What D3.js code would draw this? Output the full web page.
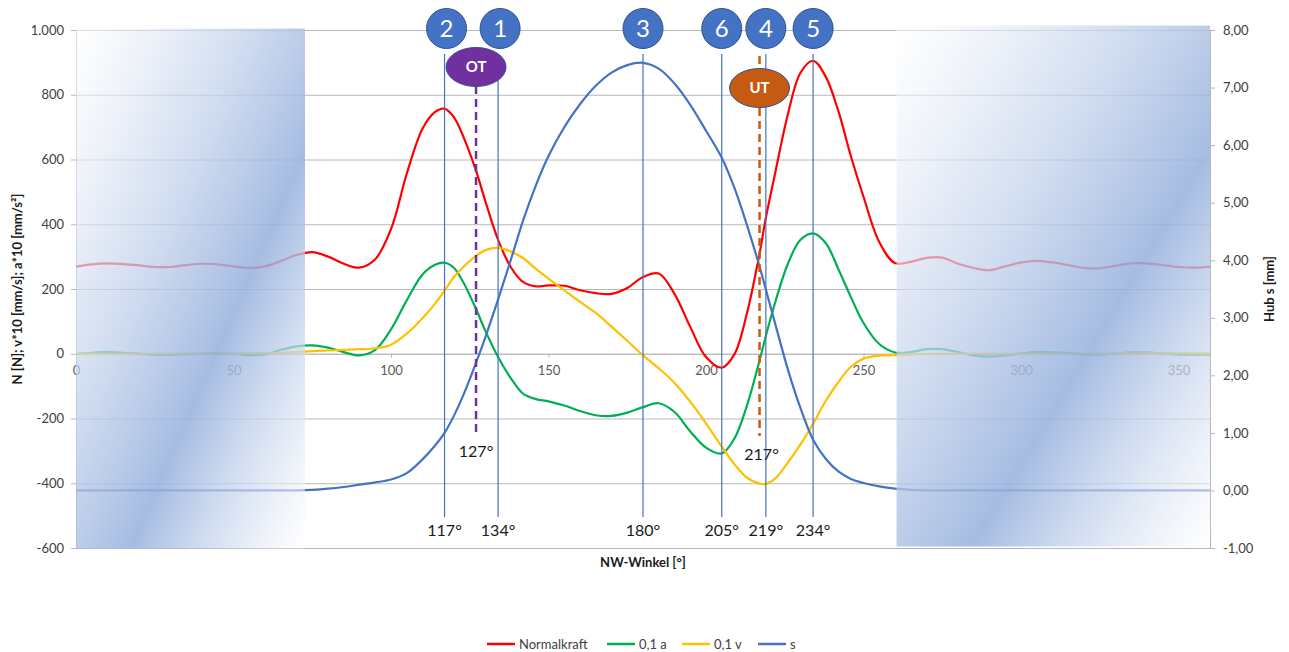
<!DOCTYPE html>
<html><head><meta charset="utf-8">
<script src="https://cdn.jsdelivr.net/npm/d3@7"></script>
<style>
body{margin:0;background:#fff}
svg{display:block;font-family:Lato,"Open Sans",sans-serif}
</style>
</head><body>
<svg id="chart" width="1289" height="652"></svg>
<script>
// ---- data ----
const angles = [0,5,10,15,20,25,30,35,40,45,50,55,60,65,70,75,80,85,90,95,100,105,110,114,117,120,123,127,130,134,138,142,146,150,155,160,165,170,175,180,185,190,195,200,205,209,213,217,219,222,226,230,234,238,242,246,250,255,260,265,270,275,280,285,290,295,300,305,310,315,320,325,330,335,340,345,350,355,360];
const normalkraft = [269,276,279,277,273,268,268,274,278,276,270,265,270,286,305,314,300,278,266,292,385,556,695,747,757,730,670,565,470,352,268,221,208,211,210,196,187,185,203,237,248,185,83,-10,-43,-2,125,309,420,560,740,868,905,856,750,610,485,345,280,284,296,297,278,265,258,270,282,287,282,274,265,264,272,279,279,274,268,266,269];
const accel = [0,3,5,3,0,-3,-3,-1,0,1,0,-4,-2,12,23,26,19,5,-5,12,75,165,245,275,281,265,220,138,70,-10,-75,-124,-140,-147,-160,-177,-190,-192,-182,-165,-153,-180,-240,-290,-308,-262,-160,-21,55,160,278,352,372,342,262,175,95,30,4,5,14,14,5,-5,-9,-5,1,5,4,2,-2,-2,1,4,4,1,-2,-3,-3];
const veloc = [0,0,0,0,0,0,0,0,0,1,1,1,2,3,5,8,10,12,14,17,28,62,110,155,195,237,268,302,320,327,316,295,262,232,196,160,126,84,40,-5,-45,-90,-148,-215,-287,-341,-383,-401,-402,-385,-336,-280,-216,-146,-88,-40,-15,-6,-4,-2,-1,0,0,0,0,0,0,0,0,0,0,0,1,1,1,1,1,1,1];
const hub = [0,0,0,0,0,0,0,0,0,0,0,0,0,0,0,0.01,0.03,0.06,0.10,0.14,0.19,0.30,0.54,0.78,1.00,1.30,1.66,2.22,2.67,3.32,4.00,4.70,5.30,5.81,6.31,6.71,7.03,7.26,7.39,7.43,7.33,7.07,6.70,6.25,5.78,5.26,4.61,3.89,3.49,2.89,2.10,1.43,0.88,0.55,0.33,0.20,0.13,0.07,0.03,0.01,0,0,0,0,0,0,0,0,0,0,0,0,0,0,0,0,0,0,0];

const seriesNames = ["Normalkraft","0,1 a","0,1 v","s"];
const leftTicks = [-600,-400,-200,0,200,400,600,800,1000];
const leftTickLabels = ["-600","-400","-200","0","200","400","600","800","1.000"];
const rightTicks = [-1,0,1,2,3,4,5,6,7,8];
const rightTickLabels = ["-1,00","0,00","1,00","2,00","3,00","4,00","5,00","6,00","7,00","8,00"];
const xTicks = [0,50,100,150,200,250,300,350];
const markerAngles = [117,134,180,205,219,234];
const markerNumbers = ["2","1","3","6","4","5"];
const otAngle = 127, utAngle = 217;
const shadedRanges = [[0,72.7],[260.5,360]];

// ---- layout ----
const svg = d3.select("#chart");
const x = d3.scaleLinear().domain([0,360]).range([76,1210]);
const yL = d3.scaleLinear().domain([-600,1000]).range([548,30]);
const yR = d3.scaleLinear().domain([-1,8]).range([548,30]);
const gridColor = "#b8b8b8", labelColor = "#404040";

// gradient
const defs = svg.append("defs");
const grad = defs.append("linearGradient").attr("id","shade")
  .attr("x1",0).attr("y1",0).attr("x2",1).attr("y2",1);
grad.append("stop").attr("offset",0).attr("stop-color","#ffffff").attr("stop-opacity",0.55);
grad.append("stop").attr("offset",0.62).attr("stop-color","#98b2de").attr("stop-opacity",0.87);
grad.append("stop").attr("offset",1).attr("stop-color","#ffffff").attr("stop-opacity",0.55);

// gridlines
const gGrid = svg.append("g").call(d3.axisLeft(yL).tickValues(leftTicks).tickSize(-(x.range()[1]-x.range()[0])).tickFormat(""))
  .attr("transform",`translate(${x.range()[0]},0)`);
gGrid.select(".domain").remove();
gGrid.selectAll("line").attr("stroke",gridColor).attr("stroke-width",1);

// left axis
const gL = svg.append("g").attr("transform",`translate(${x.range()[0]},0)`)
  .call(d3.axisLeft(yL).tickValues(leftTicks).tickFormat((d,i)=>leftTickLabels[i]).tickSize(5).tickPadding(7));
gL.select(".domain").attr("stroke",gridColor);
gL.selectAll("line").attr("stroke",gridColor);
gL.selectAll("text").attr("fill",labelColor).style("font-size","13px").style("font-family","Lato");

// right axis
const gR = svg.append("g").attr("transform",`translate(${x.range()[1]},0)`)
  .call(d3.axisRight(yR).tickValues(rightTicks).tickFormat((d,i)=>rightTickLabels[i]).tickSize(5).tickPadding(8));
gR.select(".domain").attr("stroke",gridColor);
gR.selectAll("line").attr("stroke",gridColor);
gR.selectAll("text").attr("fill",labelColor).style("font-size","13px").style("font-family","Lato");

// x axis on zero line
const gX = svg.append("g").attr("transform",`translate(0,${yL(0)})`)
  .call(d3.axisBottom(x).tickValues(xTicks).tickFormat(d=>d).tickSize(4).tickPadding(8));
gX.select(".domain").attr("stroke",gridColor);
gX.selectAll("line").attr("stroke",gridColor);
gX.selectAll("text").attr("fill","#595959").style("font-size","13px").style("font-family","Lato");

// curves
const idx = d3.range(angles.length);
const curve = d3.curveCatmullRom.alpha(0.5);
const series = [
  {vals: normalkraft, color:"#ff0000", y:yL},
  {vals: accel, color:"#00b050", y:yL},
  {vals: veloc, color:"#ffc000", y:yL},
  {vals: hub, color:"#4472c4", y:yR}
];
series.forEach(s=>{
  const line = d3.line().x(i=>x(angles[i])).y(i=>s.y(s.vals[i])).curve(curve);
  svg.append("path").attr("d",line(idx)).attr("fill","none")
    .attr("stroke",s.color).attr("stroke-width",2.2).attr("stroke-linejoin","round");
});

// shaded panels
svg.append("g").selectAll("rect").data(shadedRanges).join("rect")
  .attr("x",d=>x(d[0])).attr("width",d=>x(d[1])-x(d[0]))
  .attr("y",(d,i)=>i===0?yL(1000)-1.5:yL(1000)-4.5)
  .attr("height",(d,i)=>i===0?yL(-600)-yL(1000)+2:yL(-600)-yL(1000)+3)
  .attr("fill","url(#shade)");

// marker vertical lines
const gM = svg.append("g");
gM.selectAll("line").data(markerAngles).join("line")
  .attr("x1",d=>x(d)).attr("x2",d=>x(d)).attr("y1",54).attr("y2",517)
  .attr("stroke","#4472c4").attr("stroke-width",1.2);
gM.selectAll("text.deg").data(markerAngles).join("text").attr("class","deg")
  .attr("x",d=>x(d)).attr("y",536).attr("text-anchor","middle")
  .attr("fill","#1a1a1a").style("font-size","16px").text(d=>d+"°");

// circles
const gC = svg.append("g").selectAll("g").data(markerAngles).join("g")
  .attr("transform",d=>`translate(${x(d)+ (d<150?2:0)},28.5)`);
gC.append("circle").attr("r",20).attr("fill","#4472c4").attr("stroke","#2f528f").attr("stroke-width",1);
gC.append("text").attr("text-anchor","middle").attr("dy","0.36em").attr("fill","#fff")
  .style("font-size","24px").text((d,i)=>markerNumbers[i]);

// OT / UT dashed lines
svg.append("line").attr("x1",x(otAngle)).attr("x2",x(otAngle)).attr("y1",86).attr("y2",435)
  .attr("stroke","#7030a0").attr("stroke-width",2.5).attr("stroke-dasharray","8,5");
svg.append("line").attr("x1",x(utAngle)).attr("x2",x(utAngle)).attr("y1",56).attr("y2",436)
  .attr("stroke","#c55a11").attr("stroke-width",2.5).attr("stroke-dasharray","8,5");
svg.append("text").attr("x",x(otAngle)).attr("y",457).attr("text-anchor","middle")
  .attr("fill","#1a1a1a").style("font-size","16px").text(otAngle+"°");
svg.append("text").attr("x",x(utAngle)+2).attr("y",460).attr("text-anchor","middle")
  .attr("fill","#1a1a1a").style("font-size","16px").text(utAngle+"°");

// ellipses
[[otAngle,67,"#7030a0","OT"],[utAngle,88,"#c55a11","UT"]].forEach(([a,cy,c,t])=>{
  svg.append("ellipse").attr("cx",x(a)).attr("cy",cy).attr("rx",30).attr("ry",19.5)
    .attr("fill",c).attr("stroke","#2f528f").attr("stroke-width",1);
  svg.append("text").attr("x",x(a)).attr("y",cy).attr("dy","0.36em").attr("text-anchor","middle")
    .attr("fill","#fff").style("font-size","15px").style("font-weight","bold").text(t);
});

// axis titles
svg.append("text").attr("transform",`translate(22,${(yL.range()[0]+yL.range()[1])/2}) rotate(-90)`)
  .attr("text-anchor","middle").attr("fill","#1a1a1a").style("font-size","13px").style("font-weight","bold")
  .text("N [N]; v*10 [mm/s]; a*10 [mm/s²]");
svg.append("text").attr("transform",`translate(1274,${(yR.range()[0]+yR.range()[1])/2}) rotate(-90)`)
  .attr("text-anchor","middle").attr("fill","#1a1a1a").style("font-size","13px").style("font-weight","bold")
  .text("Hub s [mm]");
svg.append("text").attr("x",(x.range()[0]+x.range()[1])/2).attr("y",567).attr("text-anchor","middle")
  .attr("fill","#1a1a1a").style("font-size","13px").style("font-weight","bold").text("NW-Winkel [°]");

// legend
const legX = [487,607,682,758];
const gLeg = svg.append("g").selectAll("g").data(seriesNames).join("g")
  .attr("transform",(d,i)=>`translate(${legX[i]},644)`);
gLeg.append("line").attr("x1",0).attr("x2",28).attr("stroke",(d,i)=>series[i].color).attr("stroke-width",2.5);
gLeg.append("text").attr("x",32).attr("dy","0.35em").attr("fill","#404040").style("font-size","13px").text(d=>d);
</script>
</body></html>
